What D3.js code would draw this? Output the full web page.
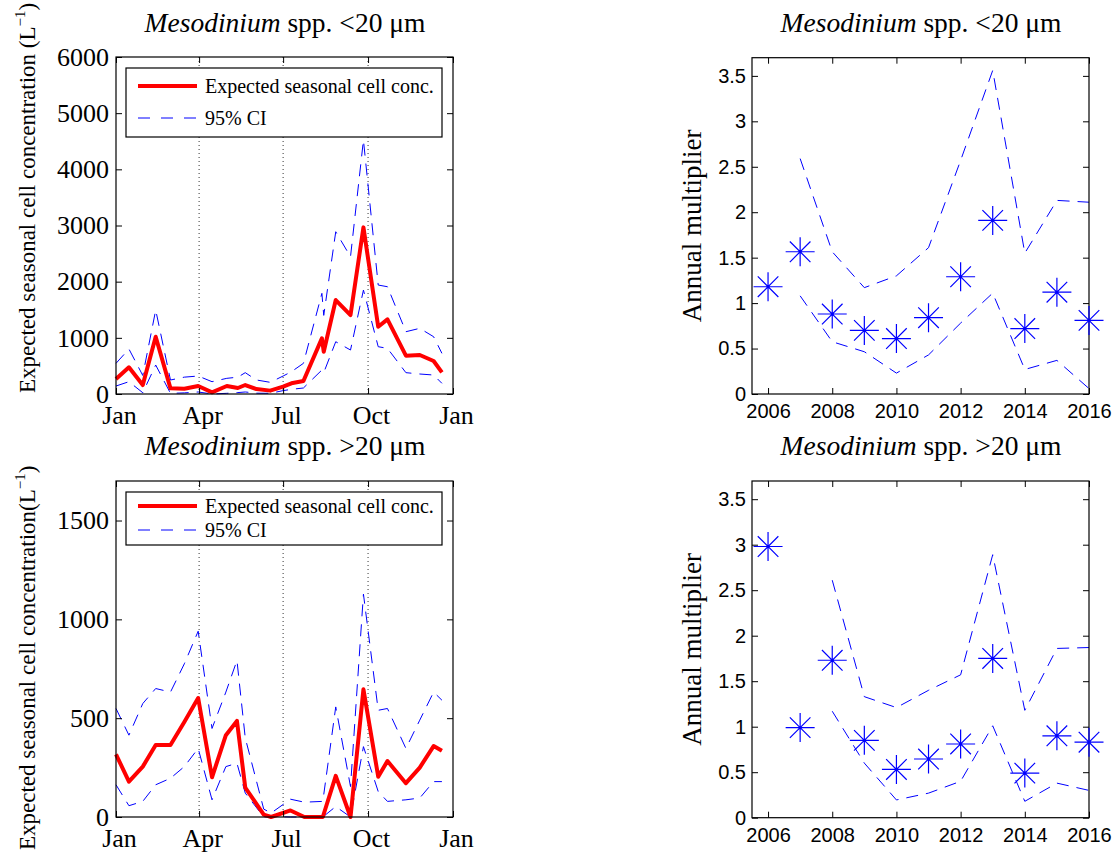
<!DOCTYPE html>
<html>
<head>
<meta charset="utf-8">
<script src="https://cdn.jsdelivr.net/npm/d3@7"></script>
<style>
body{margin:0;background:#fff}
svg{display:block}
</style>
</head>
<body>
<div id="wrapper"></div>
<script>
// ---- data ----
const monthTicks=[0,90,181,273,365];
const monthLabels=['Jan','Apr','Jul','Oct','Jan'];

// Mesodinium spp. <20 um, seasonal (day of year)
const daysSmall=[0,14,29,43,59,74,89,104,120,132,140,152,167,181,190,203,223,225,238,254,268,284,294,314,329,344,353];
const concSmall=[267,475,160,1020,101,95,142,30,142,107,160,88,60,130,190,231,991,753,1673,1406,2967,1198,1329,682,694,587,386];
const upperSmall=[546,801,330,1495,249,300,320,219,279,300,380,250,208,320,397,546,1792,1400,2889,2444,4521,1940,1910,1109,1169,1020,724];
const lowerSmall=[142,219,23,516,12,20,36,0,12,25,36,15,12,60,83,107,427,380,931,783,1851,842,813,380,356,338,190];

// Mesodinium spp. >20 um, seasonal
const daysLarge=[0,14,29,43,59,74,89,104,119,131,140,160,168,189,204,224,238,254,268,284,294,314,329,344,353];
const concLarge=[317,179,255,364,364,481,602,201,414,486,149,12,0,33,0,0,208,0,646,204,283,171,250,359,335];
const upperLarge=[549,414,574,650,632,775,940,448,632,792,400,40,20,90,75,79,557,154,1128,540,549,347,490,632,591];
const lowerLarge=[163,57,79,163,196,255,347,87,255,272,121,0,3,0,0,0,53,0,356,129,79,87,96,179,179];

// annual multipliers
const years=[2006,2007,2008,2009,2010,2011,2012,2013,2014,2015,2016];
const yearTicks=[2006,2008,2010,2012,2014,2016];
const multSmall=[1.18,1.565,0.88,0.70,0.61,0.84,1.29,1.91,0.72,1.12,0.81];
const multUpperSmall=[null,2.59,1.565,1.17,1.30,1.61,2.57,3.56,1.55,2.13,2.11];
const multLowerSmall=[null,1.08,0.575,0.465,0.23,0.43,0.78,1.11,0.27,0.37,0.06];
const multLarge=[2.98,0.99,1.73,0.85,0.53,0.645,0.81,1.75,0.49,0.90,0.83];
const multUpperLarge=[null,null,2.61,1.33,1.21,1.40,1.57,2.89,1.18,1.86,1.87];
const multLowerLarge=[null,null,1.17,0.60,0.195,0.27,0.40,1.01,0.18,0.38,0.30];

// ---- canvas ----
const width=1119,height=857;
const serif='"Liberation Serif","Times New Roman",serif';
const sans='"Liberation Sans",Arial,sans-serif';
const svg=d3.select('#wrapper').append('svg')
    .attr('width',width).attr('height',height);
svg.append('rect').attr('width',width).attr('height',height).attr('fill','white');

function addTitle(cx,y,size){
  const t=svg.append('text').attr('x',cx).attr('y',y)
    .attr('text-anchor','middle').attr('font-family',serif).attr('font-size',27.5);
  t.append('tspan').attr('font-style','italic').text('Mesodinium');
  t.append('tspan').text(' spp. '+size+'20 \u03bcm');
}

function frameAxes(g,x,y,box,xTicks,xFormat,yTicks,yFormat,font,fs,xPad,yPad){
  const w=box.right-box.left,h=box.bottom-box.top;
  const yAxis=g.append('g').call(d3.axisLeft(y).tickValues(yTicks).tickSize(-6).tickPadding(yPad).tickFormat(yFormat));
  g.append('g').attr('transform',`translate(${w},0)`)
    .call(d3.axisRight(y).tickValues(yTicks).tickSize(-6).tickFormat(''));
  const xAxis=g.append('g').attr('transform',`translate(0,${h})`)
    .call(d3.axisBottom(x).tickValues(xTicks).tickSize(-6).tickPadding(xPad).tickFormat(xFormat));
  g.append('g').call(d3.axisTop(x).tickValues(xTicks).tickSize(-6).tickFormat(''));
  g.selectAll('.domain').remove();
  g.selectAll('.tick line').attr('stroke','black');
  [yAxis,xAxis].forEach(a=>a.selectAll('text')
      .attr('font-family',font).attr('font-size',fs).attr('fill','black'));
  g.append('rect').attr('width',w).attr('height',h)
    .attr('fill','none').attr('stroke','black').attr('stroke-width',1.2);
  return xAxis;
}

function seasonalPanel(box,days,conc,upper,lower,ymax,yStep,legend,labelText,labelBottom){
  const g=svg.append('g').attr('transform',`translate(${box.left},${box.top})`);
  const w=box.right-box.left,h=box.bottom-box.top;
  const x=d3.scaleLinear().domain([0,365]).range([0,w]);
  const y=d3.scaleLinear().domain([0,ymax]).range([h,0]);
  // dotted season lines
  g.selectAll('.season').data(monthTicks.slice(1,4)).enter().append('line')
    .attr('x1',d=>x(d)).attr('x2',d=>x(d)).attr('y1',0).attr('y2',h)
    .attr('stroke','black').attr('stroke-width',0.8).attr('stroke-dasharray','1,3');
  const line=d3.line().x(d=>x(d[0])).y(d=>y(d[1]));
  [upper,lower].forEach(s=>{
    g.append('path').datum(days.map((d,i)=>[d,s[i]])).attr('d',line)
      .attr('fill','none').attr('stroke','#0000ff').attr('stroke-width',1)
      .attr('stroke-dasharray','12,8');
  });
  g.append('path').datum(days.map((d,i)=>[d,conc[i]])).attr('d',line)
    .attr('fill','none').attr('stroke','#ff0000').attr('stroke-width',4)
    .attr('stroke-linejoin','round');
  const xAxis=frameAxes(g,x,y,box,monthTicks,(d,i)=>monthLabels[i],d3.range(0,ymax+1,yStep),d3.format('d'),serif,26,12,7);
  xAxis.selectAll('text').attr('dx',3);
  // legend
  const lg=g.append('g').attr('transform',`translate(10,${legend.top-box.top})`);
  lg.append('rect').attr('width',316).attr('height',legend.h)
    .attr('fill','white').attr('stroke','black').attr('stroke-width',1.2);
  lg.append('line').attr('x1',12).attr('x2',71).attr('y1',legend.r1).attr('y2',legend.r1)
    .attr('stroke','#ff0000').attr('stroke-width',4);
  lg.append('line').attr('x1',12).attr('x2',71).attr('y1',legend.r2).attr('y2',legend.r2)
    .attr('stroke','#0000ff').attr('stroke-width',1).attr('stroke-dasharray','12,11');
  lg.append('text').attr('x',79).attr('y',legend.r1+7).attr('font-family',serif).attr('font-size',20)
    .text('Expected seasonal cell conc.');
  lg.append('text').attr('x',79).attr('y',legend.r2+7).attr('font-family',serif).attr('font-size',20)
    .text('95% CI');
  // y label
  const t=svg.append('text').attr('transform',`translate(35,${labelBottom}) rotate(-90)`)
    .attr('font-family',serif).attr('font-size',23);
  t.append('tspan').text(labelText);
  t.append('tspan').attr('font-size',15).attr('dy',-10).text('\u22121');
  t.append('tspan').attr('dy',10).text(')');
}

function annualPanel(box,mult,upper,lower){
  const g=svg.append('g').attr('transform',`translate(${box.left},${box.top})`);
  const w=box.right-box.left,h=box.bottom-box.top;
  const x=d3.scaleLinear().domain([2005.5,2016]).range([0,w]);
  const y=d3.scaleLinear().domain([0,3.7]).range([h,0]);
  const line=d3.line().defined(d=>d[1]!=null).x(d=>x(d[0])).y(d=>y(d[1]));
  [upper,lower].forEach(s=>{
    g.append('path').datum(years.map((d,i)=>[d,s[i]])).attr('d',line)
      .attr('fill','none').attr('stroke','#0000ff').attr('stroke-width',1)
      .attr('stroke-dasharray','12,8');
  });
  frameAxes(g,x,y,box,yearTicks,d3.format('d'),d3.range(0,3.51,0.5),d=>String(+d.toFixed(1)),sans,20,10,6);
  const star='M-14.5,0H14.5M0,-14.5V14.5M-10.3,-10.3L10.3,10.3M-10.3,10.3L10.3,-10.3';
  const pts=g.selectAll('.star').data(years.map((d,i)=>[d,mult[i]])).enter().append('g')
    .attr('transform',d=>`translate(${x(d[0])},${y(d[1])})`);
  pts.append('path').attr('d',star).attr('stroke','#0000ff').attr('stroke-width',1.2).attr('fill','none');
  pts.append('circle').attr('r',1.3).attr('fill','#0000ff');
  const cy=(box.top+box.bottom)/2;
  svg.append('text').attr('transform',`translate(701,${cy}) rotate(-90)`)
    .attr('text-anchor','middle').attr('font-family',serif).attr('font-size',27)
    .text('Annual multiplier');
}

// ---- panels ----
addTitle(285,32,'<');
seasonalPanel({left:116,right:453,top:57,bottom:394},daysSmall,concSmall,upperSmall,lowerSmall,
  6000,1000,{top:68,h:69,r1:18,r2:50},'Expected seasonal cell concentration (L',393);
addTitle(285,455,'>');
seasonalPanel({left:116,right:453,top:481,bottom:817},daysLarge,concLarge,upperLarge,lowerLarge,
  1700,500,{top:492,h:53,r1:14,r2:38},'Expected seasonal cell concentration(L',850);
addTitle(921,32,'<');
annualPanel({left:752,right:1089,top:57.7,bottom:394},multSmall,multUpperSmall,multLowerSmall);
addTitle(921,455,'>');
annualPanel({left:752,right:1089,top:481,bottom:817.7},multLarge,multUpperLarge,multLowerLarge);
</script>
</body>
</html>
